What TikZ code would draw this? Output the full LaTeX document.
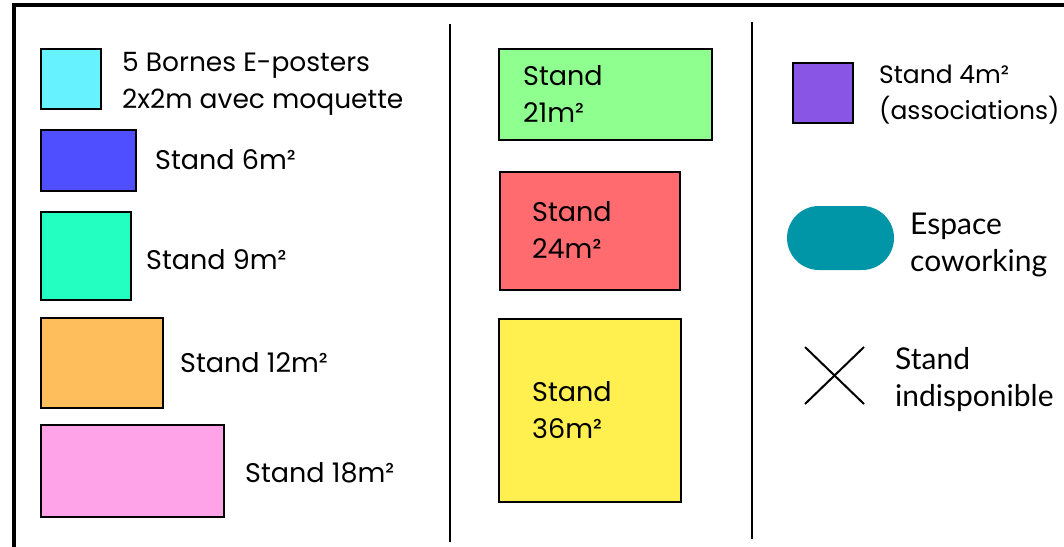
\documentclass[tikz,border=0pt]{standalone}
\usepackage{fontspec}
\setmainfont{Poppins}
\newfontfamily\humanfont{Lato}
\usetikzlibrary{shapes.misc}

\definecolor{borne}{HTML}{66F2FF}
\definecolor{six}{HTML}{4F4FFF}
\definecolor{nine}{HTML}{22FFC0}
\definecolor{twelve}{HTML}{FFBE5C}
\definecolor{eighteen}{HTML}{FFA3E8}
\definecolor{twentyone}{HTML}{8FFF8F}
\definecolor{twentyfour}{HTML}{FF6B6E}
\definecolor{thirtysix}{HTML}{FFEF4F}
\definecolor{asso}{HTML}{8855E5}
\definecolor{cowork}{HTML}{0096A8}

\tikzset{
	standbox/.style={draw=black, line width=2pt, inner sep=0pt, outer sep=0pt},
	legend/.style={anchor=west, align=left, inner sep=0pt, font=\fontsize{27}{37}\selectfont},
	humanlegend/.style={legend, font=\humanfont\fontsize{30}{37}\selectfont},
}

\begin{document}
\begin{tikzpicture}[x=1pt, y=-1pt]
	\useasboundingbox (0,0) rectangle (1064,546);
	\clip (0,0) rectangle (1064,546);

	% frame and column separators
	\draw[line width=4pt] (13.5,560) -- (13.5,5.3) -- (1080,5.3);
	\draw[line width=2pt] (450,24) -- (450,542);
	\draw[line width=2pt] (751.5,22) -- (751.5,539);

	% left column
	\node[standbox, fill=borne,    minimum width=60,    minimum height=60] (b1) at (71,79) {};
	\node[standbox, fill=six,      minimum width=95,    minimum height=61] (b6) at (88.5,160.5) {};
	\node[standbox, fill=nine,     minimum width=90,    minimum height=88] (b9) at (86,256) {};
	\node[standbox, fill=twelve,   minimum width=121.5, minimum height=90] (b12) at (101.75,363) {};
	\node[standbox, fill=eighteen, minimum width=183,   minimum height=92] (b18) at (132.5,471) {};

	\node[legend, font=\fontsize{26.5}{37}\selectfont] (l1) at (122,83.8) {5 Bornes E-posters\\2x2m avec moquette};
	\node[legend] (l6)  at (155,160)  {Stand 6m²};
	\node[legend] (l9)  at (146,260)  {Stand 9m²};
	\node[legend] (l12) at (180,363)  {Stand 12m²};
	\node[legend] (l18) at (245,473)  {Stand 18m²};

	% middle column
	\node[standbox, fill=twentyone,  minimum width=213, minimum height=91]  (b21) at (605.5,94.5) {};
	\node[standbox, fill=twentyfour, minimum width=180, minimum height=118] (b24) at (590,231) {};
	\node[standbox, fill=thirtysix,  minimum width=182, minimum height=183] (b36) at (590,410.5) {};

	\node[legend] (l21) at (523,94.2)  {Stand\\21m²};
	\node[legend] (l24) at (532,230.5) {Stand\\24m²};
	\node[legend] (l36) at (532,410.5) {Stand\\36m²};

	% right column
	\node[standbox, fill=asso, minimum width=60, minimum height=60] (b4) at (823,93) {};
	\node[fill=cowork, rounded corners=32pt, inner sep=0pt, minimum width=107, minimum height=64] (cw) at (840.5,238) {};
	\node[cross out, draw=black, line width=2pt, inner sep=0pt, minimum width=57, minimum height=55] (nd) at (834.5,375.5) {};

	\node[legend, font=\fontsize{25}{36}\selectfont] (l4) at (879,94.5) {Stand 4m²\\(associations)};
	\node[humanlegend] (lcw) at (910,245) {Espace\\coworking};
	\node[humanlegend] (lnd) at (895,380) {Stand\\indisponible};
\end{tikzpicture}
\end{document}
